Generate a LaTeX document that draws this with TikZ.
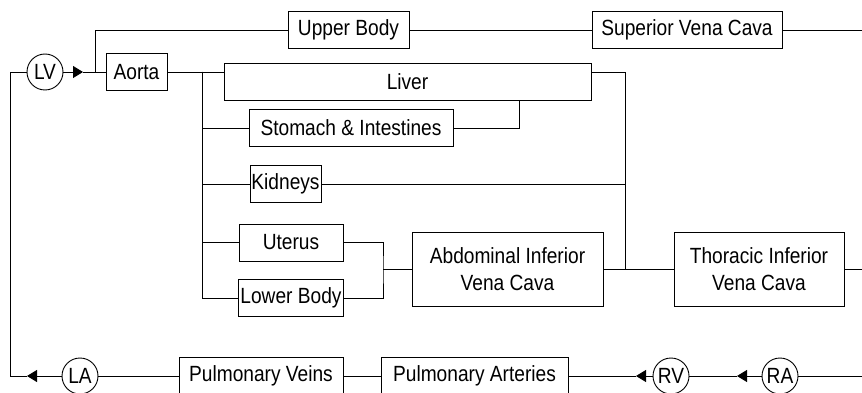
\documentclass[tikz,border=0pt]{standalone}
\usepackage{fontspec}
\setmainfont{Liberation Sans}[FakeStretch=0.87]
\usepackage{tikz}
\usetikzlibrary{shapes,arrows.meta,positioning,calc}

\begin{document}
\begin{tikzpicture}[x=1pt, y=-1pt, line width=0.9pt,
  box/.style={draw, rectangle, minimum height=37pt, inner sep=1.5pt, font=\fontsize{22}{27.3}\selectfont, align=center},
  chamber/.style={draw, circle, minimum size=36pt, inner sep=0pt, font=\fontsize{22}{26}\selectfont},
  flow/.style={-{Triangle[length=10pt,width=12pt]}}]
\useasboundingbox (0,0) rectangle (862,393);
% systemic side
\node[chamber] (lv) at (45,72) {LV};
\node[box, minimum width=61pt] (aorta) at (136.5,72) {Aorta};
\node[box, minimum width=121pt] (upper) at (348.5,30) {Upper Body};
\node[box, minimum width=190pt, right of=upper, node distance=338.5pt] (svc) {Superior Vena Cava};
\node[box, minimum width=367pt] (liver) at (407.5,81.5) {Liver};
\node[box, minimum width=204pt] (stomach) at (351,128) {Stomach \& Intestines};
\node[box, minimum width=71pt] (kidneys) at (285.5,184) {Kidneys};
\node[box, minimum width=104pt] (uterus) at (291,242.5) {Uterus};
\node[box, minimum width=105pt, below of=uterus, node distance=55.5pt] (lower) {Lower Body};
\node[box, minimum width=191pt, minimum height=74pt] (abdominal) at (507.5,269) {Abdominal Inferior\\Vena Cava};
\node[box, minimum width=170pt, minimum height=74pt, right of=abdominal, node distance=251.5pt] (thoracic) {Thoracic Inferior\\Vena Cava};
% pulmonary side
\node[chamber] (la) at (80,376) {LA};
\node[box, minimum width=164pt] (pv) at (261,376) {Pulmonary Veins};
\node[box, minimum width=187pt, right of=pv, node distance=213.5pt] (pa) {Pulmonary Arteries};
\node[chamber] (rv) at (671,376) {RV};
\node[chamber, right of=rv, node distance=109pt] (ra) {RA};

\coordinate (lvtip) at (83,72);
\coordinate (split) at (95,72);
\coordinate (bus) at (202,72);
\coordinate (gut) at (519,100);
\coordinate (join) at (383,269);
\coordinate (drain) at (625,269);
\coordinate (svcout) at (862,30);
\coordinate (thoracicout) at (862,269);
\coordinate (raout) at (862,376);
\coordinate (ratip) at (737,376);
\coordinate (rvtip) at (636,376);
\coordinate (latip) at (27,376);
\coordinate (loop) at (10,376);

\draw[flow] (lv) -- (lvtip);
\draw (lvtip) -- (aorta);
\draw (split) |- (upper);
\draw (upper) -- (svc);
\draw (svc) -- (svcout);
\draw (aorta) -- (aorta -| liver.west);
\draw (bus) |- (stomach);
\draw (bus) |- (kidneys);
\draw (bus) |- (uterus);
\draw (bus) |- (lower);
\draw (liver.east |- aorta) -| (drain);
\draw (stomach) -| (gut);
\draw (kidneys) -- (kidneys -| drain);
\draw (uterus) -| (join) |- (lower);
\draw (join) -- (abdominal);
\draw (abdominal) -- (thoracic);
\draw (thoracic) -- (thoracicout);
\draw (raout) -- (ra);
\draw[flow] (ra) -- (ratip);
\draw (ratip) -- (rv);
\draw[flow] (rv) -- (rvtip);
\draw (rvtip) -- (pa);
\draw (pa) -- (pv);
\draw (pv) -- (la);
\draw[flow] (la) -- (latip);
\draw (latip) -- (loop) |- (lv);
\end{tikzpicture}
\end{document}
